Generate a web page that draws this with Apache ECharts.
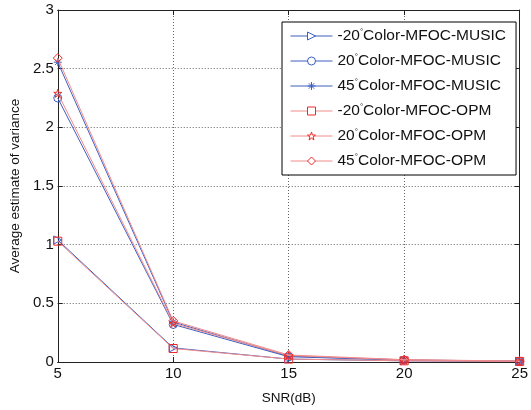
<!DOCTYPE html>
<html><head><meta charset="utf-8">
<script src="https://cdn.jsdelivr.net/npm/echarts@6/dist/echarts.min.js"></script>
<style>html,body{margin:0;padding:0;background:#fff}#c{width:531px;height:410px}</style>
</head><body><div id="c"></div>
<script>
const snr = [5, 10, 15, 20, 25];
const musicM20 = [1.04, 0.12, 0.025, 0.01, 0.005];
const music20 = [2.25, 0.32, 0.045, 0.015, 0.006];
const music45 = [2.555, 0.34, 0.05, 0.018, 0.007];
const opmM20 = [1.03, 0.115, 0.025, 0.01, 0.005];
const opm20 = [2.29, 0.33, 0.055, 0.018, 0.006];
const opm45 = [2.59, 0.35, 0.06, 0.02, 0.008];
const names = ['-20°Color-MFOC-MUSIC','20°Color-MFOC-MUSIC','45°Color-MFOC-MUSIC','-20°Color-MFOC-OPM','20°Color-MFOC-OPM','45°Color-MFOC-OPM'];
const xTicks = [5, 10, 15, 20, 25];
const yTicks = [0, 0.5, 1, 1.5, 2, 2.5, 3];

const BLUE = '#3f5fbf', REDLINE = '#f28c8c', RED = '#ec2a2a';
const triR = 'path://M0,0L10,5L0,10Z';
const aster = 'path://M5,0L5,10M0,5L10,5M1.6,1.6L8.4,8.4M8.4,1.6L1.6,8.4';
const star = 'path://M5,0L6.18,3.62L10,3.62L6.91,5.86L8.09,9.5L5,7.25L1.91,9.5L3.09,5.86L0,3.62L3.82,3.62Z';
const sets = [
  [musicM20, triR, BLUE, BLUE, 8],
  [music20, 'circle', BLUE, BLUE, 8],
  [music45, aster, BLUE, BLUE, 8],
  [opmM20, 'rect', REDLINE, RED, 8],
  [opm20, star, REDLINE, RED, 8],
  [opm45, 'diamond', REDLINE, RED, 9]
];
const series = sets.map((s, i) => ({
  name: names[i], type: 'line',
  data: snr.map((x, j) => [x, s[0][j]]),
  symbol: s[1], symbolSize: s[4], showSymbol: true,
  lineStyle: {color: s[2], width: 1},
  itemStyle: {color: 'rgba(255,255,255,0)', borderColor: s[3], borderWidth: 1},
  emphasis: {disabled: true},
  z: 2 + i
}));
const chart = echarts.init(document.getElementById('c'));
const font = 'Liberation Sans, Arial, sans-serif';
chart.setOption({
  backgroundColor: '#fff',
  animation: false,
  textStyle: {fontFamily: font},
  grid: {left: 57, right: 6, top: 10, bottom: 47},
  legend: {
    left: 282, top: 22, orient: 'vertical',
    itemWidth: 42, itemHeight: 10, itemGap: 9,
    padding: [6, 10, 6, 8],
    borderColor: '#000', borderWidth: 1, backgroundColor: '#fff',
    lineStyle: {width: 1},
    itemStyle: {color: '#ffffff', borderWidth: 1},
    textStyle: {fontFamily: font, fontSize: 15.5, color: '#111', lineHeight: 16,
      rich: {
        t: {fontSize: 15.5, lineHeight: 16, color: '#111', fontFamily: font},
        s: {fontSize: 8, lineHeight: 16, verticalAlign: 'top', color: '#111', fontFamily: font}
      }},
    formatter: n => { const p = n.split('°'); return '{t|' + p[0] + '}{s|°}{t|' + p[1] + '}'; },
    data: names
  },
  xAxis: [{
    type: 'value', min: 5, max: 25, interval: 5,
    name: 'SNR(dB)', nameLocation: 'middle', nameGap: 29,
    nameTextStyle: {fontSize: 13.5, color: '#111', fontFamily: font},
    axisLine: {show: true, lineStyle: {color: '#222', width: 1}},
    axisTick: {inside: true, length: 5, lineStyle: {color: '#222'}},
    axisLabel: {fontSize: 15, color: '#111', margin: 4, fontFamily: font,
      formatter: v => xTicks.includes(v) ? String(v) : ''},
    splitLine: {show: true, lineStyle: {color: '#666', type: [1, 2], width: 1}}
  }, {
    type: 'value', min: 5, max: 25, interval: 5, position: 'top',
    axisLine: {show: true, onZero: false, lineStyle: {color: '#222'}},
    axisTick: {inside: true, length: 5, lineStyle: {color: '#222'}},
    axisLabel: {show: false}, splitLine: {show: false}
  }],
  yAxis: [{
    type: 'value', min: 0, max: 3, interval: 0.5,
    name: 'Average estimate of variance', nameLocation: 'middle', nameGap: 32,
    nameTextStyle: {fontSize: 13.5, color: '#111', fontFamily: font},
    axisLine: {show: true, lineStyle: {color: '#222', width: 1}},
    axisTick: {inside: true, length: 5, lineStyle: {color: '#222'}},
    axisLabel: {fontSize: 15, color: '#111', margin: 4, fontFamily: font,
      formatter: v => yTicks.includes(v) ? String(v) : ''},
    splitLine: {show: true, lineStyle: {color: '#666', type: [1, 2], width: 1}}
  }, {
    type: 'value', min: 0, max: 3, interval: 0.5, position: 'right',
    axisLine: {show: true, onZero: false, lineStyle: {color: '#222'}},
    axisTick: {inside: true, length: 5, lineStyle: {color: '#222'}},
    axisLabel: {show: false}, splitLine: {show: false}
  }],
  series: series
});
</script></body></html>
